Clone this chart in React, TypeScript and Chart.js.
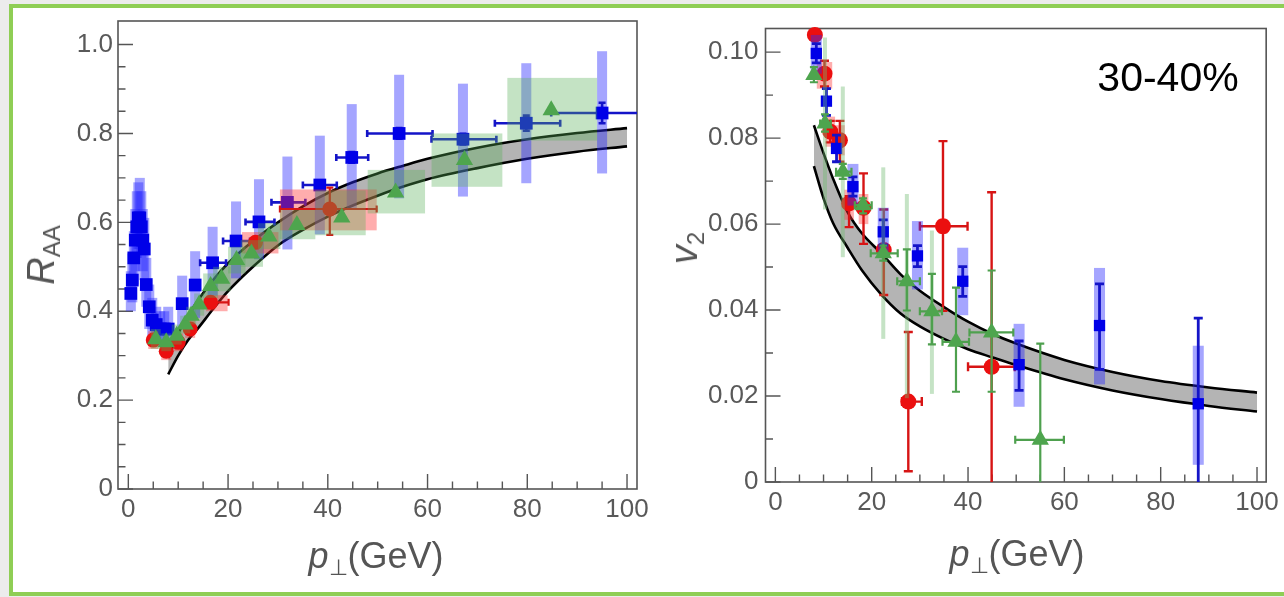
import React, { useEffect, useRef } from "react";
import { Chart, registerables } from "chart.js";

Chart.register(...registerables);

const FONT = '"Liberation Sans", Arial, Helvetica, sans-serif';

// ================= Left panel: R_AA =================
const raaXTicks = [0, 20, 40, 60, 80, 100];
const raaXLabels = ["0", "20", "40", "60", "80", "100"];
const raaYTicks = [0, 0.2, 0.4, 0.6, 0.8, 1.0];
const raaYLabels = ["0", "0.2", "0.4", "0.6", "0.8", "1.0"];

const raaBandX = [8, 10, 12, 14, 17, 20, 25, 30, 35, 40, 45, 50, 55, 60, 70, 80, 90, 100];
const raaBandLow = [0.258, 0.3, 0.335, 0.362, 0.405, 0.445, 0.5, 0.548, 0.583, 0.613, 0.638, 0.66, 0.68, 0.697, 0.722, 0.743, 0.759, 0.771];
const raaBandHigh = [0.295, 0.35, 0.39, 0.425, 0.47, 0.508, 0.558, 0.6, 0.636, 0.666, 0.69, 0.71, 0.727, 0.743, 0.768, 0.787, 0.801, 0.812];

const raaBlueX = [0.5, 0.8, 1.1, 1.4, 1.7, 2.0, 2.3, 2.6, 2.9, 3.2, 3.6, 4.2, 4.8, 5.6, 6.4, 7.2, 8.0, 10.8, 13.4, 16.9, 21.6, 26.2, 31.9, 38.4, 44.8, 54.3, 67.1, 79.8, 95.0];
const raaBlueY = [0.44, 0.47, 0.52, 0.56, 0.59, 0.61, 0.61, 0.59, 0.56, 0.54, 0.46, 0.41, 0.38, 0.37, 0.36, 0.36, 0.36, 0.417, 0.459, 0.509, 0.558, 0.601, 0.645, 0.684, 0.746, 0.8, 0.787, 0.823, 0.846];
const raaBlueSys: ([number, number] | null)[] = [
  [0.4, 0.49], [0.42, 0.53], [0.46, 0.58], [0.49, 0.63], [0.52, 0.67], [0.54, 0.69], [0.54, 0.7], [0.52, 0.67], [0.49, 0.63], [0.47, 0.61],
  [0.41, 0.52], [0.36, 0.46], [0.34, 0.43], [0.33, 0.41], [0.32, 0.4], [0.32, 0.4], [0.32, 0.41], [0.36, 0.48], [0.385, 0.535],
  [0.435, 0.59], [0.474, 0.647], [0.517, 0.697], [0.539, 0.748], [0.573, 0.795], [0.632, 0.866], [0.654, 0.932], [0.658, 0.912], [0.688, 0.958], [0.71, 0.985],
];
const raaBlueStat: ([number, number] | null)[] = [
  null, null, null, null, null, null, null, null, null, null, null, null, null, null, null, null, null, null, null,
  [0.501, 0.517], [0.55, 0.566], [0.593, 0.609], [0.637, 0.653], [0.674, 0.694], [0.734, 0.758], [0.788, 0.812], [0.775, 0.799], [0.806, 0.84], [0.823, 0.869],
];
const raaBlueXErr: ([number, number] | null)[] = [
  null, null, null, null, null, null, null, null, null, null, null, null, null, null, null, null, null, null, null,
  [14.4, 19.6], [19.0, 24.4], [23.5, 29.3], [28.7, 35.5], [35.0, 41.8], [41.7, 48.1], [47.9, 61.0], [60.8, 73.8], [73.5, 86.6], [84.8, 104],
];

const raaRedX = [5.0, 7.6, 10.0, 12.4, 16.5, 25.5, 40.4];
const raaRedY = [0.335, 0.31, 0.33, 0.36, 0.42, 0.555, 0.63];
const raaRedBox: ([number, number, number, number] | null)[] = [
  [4.0, 6.0, 0.315, 0.355], [6.6, 8.6, 0.29, 0.33], [9.0, 11.0, 0.31, 0.35], [11.4, 13.4, 0.34, 0.38],
  [15.6, 19.9, 0.4, 0.436], [22.8, 30.1, 0.53, 0.578], [30.4, 49.8, 0.582, 0.674],
];
const raaRedStat: ([number, number] | null)[] = [null, null, null, null, [0.41, 0.43], null, [0.572, 0.678]];
const raaRedXErr: ([number, number] | null)[] = [null, null, null, null, [15.8, 20.1], null, [30.4, 49.8]];

const raaGreenX = [5.5, 7.6, 9.7, 11.4, 12.6, 14.2, 16.5, 18.7, 21.7, 24.7, 28.2, 33.8, 42.8, 53.6, 67.4, 84.8];
const raaGreenY = [0.337, 0.33, 0.345, 0.37, 0.39, 0.415, 0.457, 0.473, 0.515, 0.53, 0.568, 0.594, 0.611, 0.667, 0.74, 0.852];
const raaGreenBox: ([number, number, number, number] | null)[] = [
  [4.5, 6.5, 0.315, 0.36], [6.6, 8.6, 0.31, 0.35], [8.7, 10.7, 0.325, 0.37], [10.4, 12.4, 0.35, 0.39],
  [11.6, 13.6, 0.37, 0.41], [13.2, 15.2, 0.39, 0.44], [15.0, 18.0, 0.43, 0.485], [17.0, 20.5, 0.445, 0.5],
  [20.0, 23.5, 0.485, 0.545], [22.5, 27.0, 0.5, 0.56], [26.0, 30.5, 0.54, 0.598], [30.4, 37.5, 0.562, 0.628],
  [37.5, 47.6, 0.571, 0.672], [48.0, 59.5, 0.62, 0.718], [60.8, 75.0, 0.68, 0.8], [76.0, 94.0, 0.784, 0.925],
];

// ================= Right panel: v2 =================
const v2XTicks = [0, 20, 40, 60, 80, 100];
const v2XLabels = ["0", "20", "40", "60", "80", "100"];
const v2YTicks = [0, 0.02, 0.04, 0.06, 0.08, 0.1];
const v2YLabels = ["0", "0.02", "0.04", "0.06", "0.08", "0.10"];

const v2BandX = [8, 10, 12, 15, 18, 22, 26, 30, 35, 40, 45, 50, 60, 70, 80, 90, 100];
const v2BandHigh = [0.083, 0.0765, 0.0705, 0.0628, 0.0578, 0.0532, 0.0483, 0.0445, 0.0407, 0.0373, 0.0345, 0.0322, 0.0284, 0.0256, 0.0235, 0.022, 0.0208];
const v2BandLow = [0.0735, 0.066, 0.0602, 0.0545, 0.0492, 0.0436, 0.0392, 0.0362, 0.0333, 0.0309, 0.029, 0.0272, 0.0239, 0.0213, 0.0193, 0.0177, 0.0164];

const v2RedX = [8.2, 10.2, 11.4, 13.4, 15.3, 18.3, 22.5, 27.6, 34.8, 44.9];
const v2RedY = [0.104, 0.095, 0.0815, 0.0795, 0.0648, 0.0638, 0.054, 0.0187, 0.0595, 0.0268];
const v2RedStat: ([number, number] | null)[] = [
  null, [0.092, 0.098], [0.079, 0.084], [0.0745, 0.084], [0.0593, 0.0665], [0.0554, 0.0718], [0.0435, 0.0634], [0.0025, 0.0349], [0.0398, 0.0793], [-0.02, 0.0674],
];
const v2RedXErr: ([number, number] | null)[] = [null, null, null, null, null, null, null, [26.3, 30.4], [30.0, 39.9], [40.0, 49.7]];
const v2RedBox: ([number, number, number, number] | null)[] = [
  null, [8.6, 11.8, 0.0915, 0.0977], [10.4, 12.4, 0.078, 0.085], [12.4, 14.4, 0.076, 0.083], [14.3, 16.3, 0.061, 0.068],
  [17.3, 19.3, 0.06, 0.067], null, null, [33.8, 35.8, 0.0578, 0.0612], null,
];

const v2BlueX = [8.5, 10.6, 12.7, 16.1, 22.4, 29.5, 38.9, 50.6, 67.3, 87.8];
const v2BlueY = [0.0997, 0.0886, 0.0776, 0.0687, 0.0582, 0.0526, 0.0467, 0.0273, 0.0364, 0.0182];
const v2BlueStat: ([number, number] | null)[] = [
  [0.0975, 0.102], [0.0853, 0.0915], [0.0745, 0.0807], [0.0665, 0.071], [0.0551, 0.061], [0.0501, 0.055], [0.0432, 0.0501], [0.0213, 0.0328], [0.0262, 0.0461], [-0.002, 0.0381],
];
const v2BlueSys: ([number, number] | null)[] = [
  [0.095, 0.104], null, null, [0.0643, 0.074], [0.0528, 0.0638], [0.0448, 0.0607], [0.0388, 0.0545], [0.0175, 0.0368], [0.0227, 0.0498], [0.004, 0.0317],
];

const v2GreenX = [8.0, 10.3, 14.0, 18.2, 22.4, 27.3, 32.5, 37.5, 44.9, 55.0];
const v2GreenY = [0.0947, 0.0834, 0.0722, 0.0644, 0.0532, 0.0467, 0.0397, 0.0326, 0.0348, 0.0098];
const v2GreenStat: ([number, number] | null)[] = [
  [0.093, 0.0965], [0.0815, 0.0855], [0.0705, 0.074], [0.0625, 0.066], [0.0515, 0.055], [0.0399, 0.0541], [0.032, 0.0484], [0.021, 0.0452], [0.021, 0.0492], [-0.001, 0.0322],
];
const v2GreenXErr: ([number, number] | null)[] = [
  null, [9.3, 11.5], [12.6, 15.8], [16.5, 20.0], [19.8, 25.4], [25.3, 30.0], [30.0, 34.6], [34.7, 40.2], [40.3, 49.4], [49.8, 59.9],
];
const v2GreenSys: ([number, number] | null)[] = [
  null, [0.0634, 0.1034], [0.0523, 0.092], null, [0.0333, 0.0732], [0.0195, 0.067], [0.0205, 0.0585], null, null, null,
];

// ================= helpers =================
type Range = [number, number] | null;
type Box = [number, number, number, number] | null;

interface SeriesSpec {
  x: number[];
  y: number[];
  yBar?: Range[];
  xBar?: Range[];
  band?: Range[];
  bandW?: number;
  bandColor?: string;
  box?: Box[];
  boxColor?: string;
  color: string;
  barColor: string;
  barW: number;
  capW: number;
  pointStyle: string;
  radius: number;
  order: number;
}

interface PanelSpec {
  padTop: number;
  padRight: number;
  yAxisWidth: number;
  xAxisHeight: number;
  xMin: number;
  xMax: number;
  yMin: number;
  yMax: number;
  xTicks: number[];
  xLabels: string[];
  yTicks: number[];
  yLabels: string[];
  xMinorStep: number;
  yMinorStep: number;
  yPad: number;
  xPad: number;
  bandX: number[];
  bandLow: number[];
  bandHigh: number[];
  series: SeriesSpec[];
}

const errorPlugin = {
  id: "errorBars",
  beforeDatasetDraw(chart: any, args: any) {
    const ds: any = chart.data.datasets[args.index];
    const s: SeriesSpec | undefined = ds && ds.spec;
    if (!s) return;
    const xs = chart.scales.x;
    const ys = chart.scales.y;
    const ctx: CanvasRenderingContext2D = chart.ctx;
    const a = chart.chartArea;
    ctx.save();
    ctx.beginPath();
    ctx.rect(a.left, a.top, a.right - a.left, a.bottom - a.top);
    ctx.clip();
    if (s.box) {
      ctx.fillStyle = s.boxColor || "rgba(0,0,0,0.2)";
      for (const b of s.box) {
        if (!b) continue;
        const x0 = xs.getPixelForValue(b[0]);
        const x1 = xs.getPixelForValue(b[1]);
        const y0 = ys.getPixelForValue(b[2]);
        const y1 = ys.getPixelForValue(b[3]);
        ctx.fillRect(x0, y1, x1 - x0, y0 - y1);
      }
    }
    if (s.band) {
      ctx.fillStyle = s.bandColor || "rgba(0,0,0,0.2)";
      const w = s.bandW || 8;
      s.band.forEach((b, i) => {
        if (!b) return;
        const px = xs.getPixelForValue(s.x[i]);
        const y0 = ys.getPixelForValue(b[0]);
        const y1 = ys.getPixelForValue(b[1]);
        ctx.fillRect(px - w / 2, y1, w, y0 - y1);
      });
    }
    ctx.strokeStyle = s.barColor;
    ctx.lineWidth = s.barW;
    const cw = s.capW / 2;
    s.x.forEach((xv, i) => {
      const px = xs.getPixelForValue(xv);
      const py = ys.getPixelForValue(s.y[i]);
      const yb = s.yBar ? s.yBar[i] : null;
      if (yb) {
        const p0 = ys.getPixelForValue(yb[0]);
        const p1 = ys.getPixelForValue(yb[1]);
        ctx.beginPath();
        ctx.moveTo(px, p0);
        ctx.lineTo(px, p1);
        ctx.moveTo(px - cw, p0);
        ctx.lineTo(px + cw, p0);
        ctx.moveTo(px - cw, p1);
        ctx.lineTo(px + cw, p1);
        ctx.stroke();
      }
      const xb = s.xBar ? s.xBar[i] : null;
      if (xb) {
        const q0 = xs.getPixelForValue(xb[0]);
        const q1 = xs.getPixelForValue(xb[1]);
        ctx.beginPath();
        ctx.moveTo(q0, py);
        ctx.lineTo(q1, py);
        ctx.moveTo(q0, py - cw);
        ctx.lineTo(q0, py + cw);
        ctx.moveTo(q1, py - cw);
        ctx.lineTo(q1, py + cw);
        ctx.stroke();
      }
    });
    ctx.restore();
  },
};

function makeFramePlugin(p: PanelSpec) {
  return {
    id: "frameTicks",
    beforeDatasetsDraw(chart: any) {
      const ctx: CanvasRenderingContext2D = chart.ctx;
      const a = chart.chartArea;
      const xs = chart.scales.x;
      const ys = chart.scales.y;
      ctx.save();
      ctx.strokeStyle = "#555555";
      ctx.lineWidth = 1.6;
      ctx.strokeRect(a.left, a.top, a.right - a.left, a.bottom - a.top);
      ctx.lineWidth = 1.4;
      ctx.beginPath();
      const majLen = 15;
      const minLen = 7.5;
      for (const v of p.xTicks) {
        const x = xs.getPixelForValue(v);
        ctx.moveTo(x, a.bottom);
        ctx.lineTo(x, a.bottom - majLen);
      }
      for (let v = p.xTicks[0]; v <= p.xTicks[p.xTicks.length - 1] + 1e-9; v += p.xMinorStep) {
        if (p.xTicks.some((t) => Math.abs(t - v) < 1e-6)) continue;
        const x = xs.getPixelForValue(v);
        ctx.moveTo(x, a.bottom);
        ctx.lineTo(x, a.bottom - minLen);
      }
      for (const v of p.yTicks) {
        const y = ys.getPixelForValue(v);
        ctx.moveTo(a.left, y);
        ctx.lineTo(a.left + majLen, y);
      }
      for (let k = 1; ; k++) {
        const v = p.yMin + k * p.yMinorStep;
        if (v > p.yMax - p.yMinorStep * 0.2) break;
        if (p.yTicks.some((t) => Math.abs(t - v) < p.yMinorStep * 1e-3)) continue;
        const y = ys.getPixelForValue(v);
        ctx.moveTo(a.left, y);
        ctx.lineTo(a.left + minLen, y);
      }
      ctx.stroke();
      ctx.restore();
    },
  };
}

function buildConfig(p: PanelSpec): any {
  const datasets: any[] = [
    {
      type: "line",
      data: p.bandX.map((x, i) => ({ x, y: p.bandLow[i] })),
      borderColor: "#000",
      borderWidth: 2.6,
      pointRadius: 0,
      cubicInterpolationMode: "monotone",
      fill: false,
      order: 20,
    },
    {
      type: "line",
      data: p.bandX.map((x, i) => ({ x, y: p.bandHigh[i] })),
      borderColor: "#000",
      borderWidth: 2.6,
      pointRadius: 0,
      cubicInterpolationMode: "monotone",
      fill: "-1",
      backgroundColor: "rgb(180,180,180)",
      order: 20,
    },
  ];
  for (const s of p.series) {
    datasets.push({
      type: "scatter",
      data: s.x.map((x, i) => ({ x, y: s.y[i] })),
      pointStyle: s.pointStyle,
      pointRadius: s.radius,
      pointHoverRadius: s.radius,
      backgroundColor: s.color,
      borderColor: s.color,
      borderWidth: 0,
      clip: false,
      order: s.order,
      spec: s,
    });
  }
  const tickFont = { family: FONT, size: 26 };
  return {
    type: "scatter",
    data: { datasets },
    options: {
      animation: false,
      responsive: false,
      maintainAspectRatio: false,
      events: [],
      layout: { padding: { left: 0, top: p.padTop, right: p.padRight, bottom: 0 } },
      plugins: { legend: { display: false }, tooltip: { enabled: false }, title: { display: false } },
      scales: {
        x: {
          type: "linear",
          min: p.xMin,
          max: p.xMax,
          grid: { display: false, drawTicks: false },
          border: { display: false },
          afterBuildTicks: (scale: any) => {
            scale.ticks = p.xTicks.map((v) => ({ value: v }));
          },
          afterFit: (scale: any) => {
            scale.height = p.xAxisHeight;
          },
          ticks: {
            autoSkip: false,
            maxRotation: 0,
            minRotation: 0,
            padding: p.xPad,
            color: "#595959",
            font: tickFont,
            callback: (_v: any, i: number) => p.xLabels[i],
          },
        },
        y: {
          type: "linear",
          min: p.yMin,
          max: p.yMax,
          grid: { display: false, drawTicks: false },
          border: { display: false },
          afterBuildTicks: (scale: any) => {
            scale.ticks = p.yTicks.map((v) => ({ value: v }));
          },
          afterFit: (scale: any) => {
            scale.width = p.yAxisWidth;
          },
          ticks: {
            autoSkip: false,
            padding: p.yPad,
            color: "#595959",
            font: tickFont,
            callback: (_v: any, i: number) => p.yLabels[i],
          },
        },
      },
    },
    plugins: [makeFramePlugin(p), errorPlugin],
  };
}

const BLUE = "rgb(0,0,232)";
const BLUE_BAR = "rgb(20,20,200)";
const BLUE_SYS = "rgba(40,40,255,0.42)";
const RED = "rgb(235,15,15)";
const RED_BAR = "rgb(215,20,20)";
const RED_SYS = "rgba(255,50,50,0.4)";
const GREEN = "rgb(78,165,78)";
const GREEN_BAR = "rgb(78,160,78)";
const GREEN_SYS = "rgba(85,175,85,0.35)";

const leftPanel: PanelSpec = {
  padTop: 21,
  padRight: 23,
  yAxisWidth: 118,
  xAxisHeight: 108,
  xMin: -2.07,
  xMax: 102,
  yMin: 0,
  yMax: 1.053,
  xTicks: raaXTicks,
  xLabels: raaXLabels,
  yTicks: raaYTicks,
  yLabels: raaYLabels,
  xMinorStep: 5,
  yMinorStep: 0.05,
  yPad: 5,
  xPad: 5,
  bandX: raaBandX,
  bandLow: raaBandLow,
  bandHigh: raaBandHigh,
  series: [
    {
      x: raaBlueX, y: raaBlueY, yBar: raaBlueStat, xBar: raaBlueXErr, band: raaBlueSys, bandW: 10, bandColor: BLUE_SYS,
      color: BLUE, barColor: BLUE_BAR, barW: 2.6, capW: 7, pointStyle: "rect", radius: 9, order: 5,
    },
    {
      x: raaRedX, y: raaRedY, yBar: raaRedStat, xBar: raaRedXErr, box: raaRedBox, boxColor: RED_SYS,
      color: RED, barColor: RED_BAR, barW: 2.2, capW: 7, pointStyle: "circle", radius: 7.5, order: 4,
    },
    {
      x: raaGreenX, y: raaGreenY, box: raaGreenBox, boxColor: GREEN_SYS,
      color: GREEN, barColor: GREEN_BAR, barW: 2, capW: 7, pointStyle: "triangle", radius: 10, order: 3,
    },
  ],
};

const rightPanel: PanelSpec = {
  padTop: 28.5,
  padRight: 16,
  yAxisWidth: 105.5,
  xAxisHeight: 115,
  xMin: -2.05,
  xMax: 101.9,
  yMin: 0,
  yMax: 0.1055,
  xTicks: v2XTicks,
  xLabels: v2XLabels,
  yTicks: v2YTicks,
  yLabels: v2YLabels,
  xMinorStep: 5,
  yMinorStep: 0.01,
  yPad: 7,
  xPad: 5,
  bandX: v2BandX,
  bandLow: v2BandLow,
  bandHigh: v2BandHigh,
  series: [
    {
      x: v2RedX, y: v2RedY, yBar: v2RedStat, xBar: v2RedXErr, box: v2RedBox, boxColor: RED_SYS,
      color: RED, barColor: RED_BAR, barW: 2.4, capW: 9, pointStyle: "circle", radius: 8, order: 6,
    },
    {
      x: v2BlueX, y: v2BlueY, yBar: v2BlueStat, band: v2BlueSys, bandW: 11, bandColor: BLUE_SYS,
      color: BLUE, barColor: BLUE_BAR, barW: 2.8, capW: 9, pointStyle: "rect", radius: 8, order: 5,
    },
    {
      x: v2GreenX, y: v2GreenY, yBar: v2GreenStat, xBar: v2GreenXErr, band: v2GreenSys, bandW: 4, bandColor: "rgba(110,185,110,0.4)",
      color: GREEN, barColor: GREEN_BAR, barW: 2.2, capW: 8, pointStyle: "triangle", radius: 10, order: 4,
    },
  ],
};

const titleStyle: React.CSSProperties = {
  position: "absolute",
  fontFamily: FONT,
  color: "#555555",
  whiteSpace: "nowrap",
  lineHeight: 1,
};

export default function App() {
  const leftRef = useRef<HTMLCanvasElement>(null);
  const rightRef = useRef<HTMLCanvasElement>(null);

  useEffect(() => {
    const c1 = new Chart(leftRef.current as HTMLCanvasElement, buildConfig(leftPanel));
    const c2 = new Chart(rightRef.current as HTMLCanvasElement, buildConfig(rightPanel));
    return () => {
      c1.destroy();
      c2.destroy();
    };
  }, []);

  return (
    <div
      style={{
        position: "absolute",
        left: 0,
        top: 0,
        width: 1284,
        height: 597,
        background: "#ececec",
        overflow: "hidden",
      }}
    >
      <div
        style={{
          position: "absolute",
          left: 9,
          top: 4,
          width: 1320,
          height: 592,
          boxSizing: "border-box",
          border: "4px solid #8fce55",
          background: "#ffffff",
        }}
      />
      <canvas ref={leftRef} width={660} height={597} style={{ position: "absolute", left: 0, top: 0 }} />
      <canvas ref={rightRef} width={624} height={597} style={{ position: "absolute", left: 660, top: 0 }} />

      <div style={{ ...titleStyle, left: 41, top: 255, fontSize: 38, transform: "translate(-50%,-50%) rotate(-90deg)" }}>
        <span style={{ fontStyle: "italic" }}>R</span>
        <span style={{ fontSize: 24, position: "relative", top: 6 }}>AA</span>
      </div>
      <div style={{ ...titleStyle, left: 376, top: 556, fontSize: 36, transform: "translate(-50%,-50%)" }}>
        <span style={{ fontStyle: "italic" }}>p</span>
        <span style={{ fontSize: 22, position: "relative", top: 7 }}>⊥</span>
        <span>(GeV)</span>
      </div>

      <div style={{ ...titleStyle, left: 684, top: 248, fontSize: 38, transform: "translate(-50%,-50%) rotate(-90deg)" }}>
        <span style={{ fontStyle: "italic" }}>v</span>
        <span style={{ fontSize: 24, position: "relative", top: 7 }}>2</span>
      </div>
      <div style={{ ...titleStyle, left: 1017, top: 554, fontSize: 36, transform: "translate(-50%,-50%)" }}>
        <span style={{ fontStyle: "italic" }}>p</span>
        <span style={{ fontSize: 22, position: "relative", top: 7 }}>⊥</span>
        <span>(GeV)</span>
      </div>

      <div style={{ ...titleStyle, color: "#000", left: 1168, top: 77, fontSize: 41, transform: "translate(-50%,-50%)" }}>
        30-40%
      </div>
    </div>
  );
}
